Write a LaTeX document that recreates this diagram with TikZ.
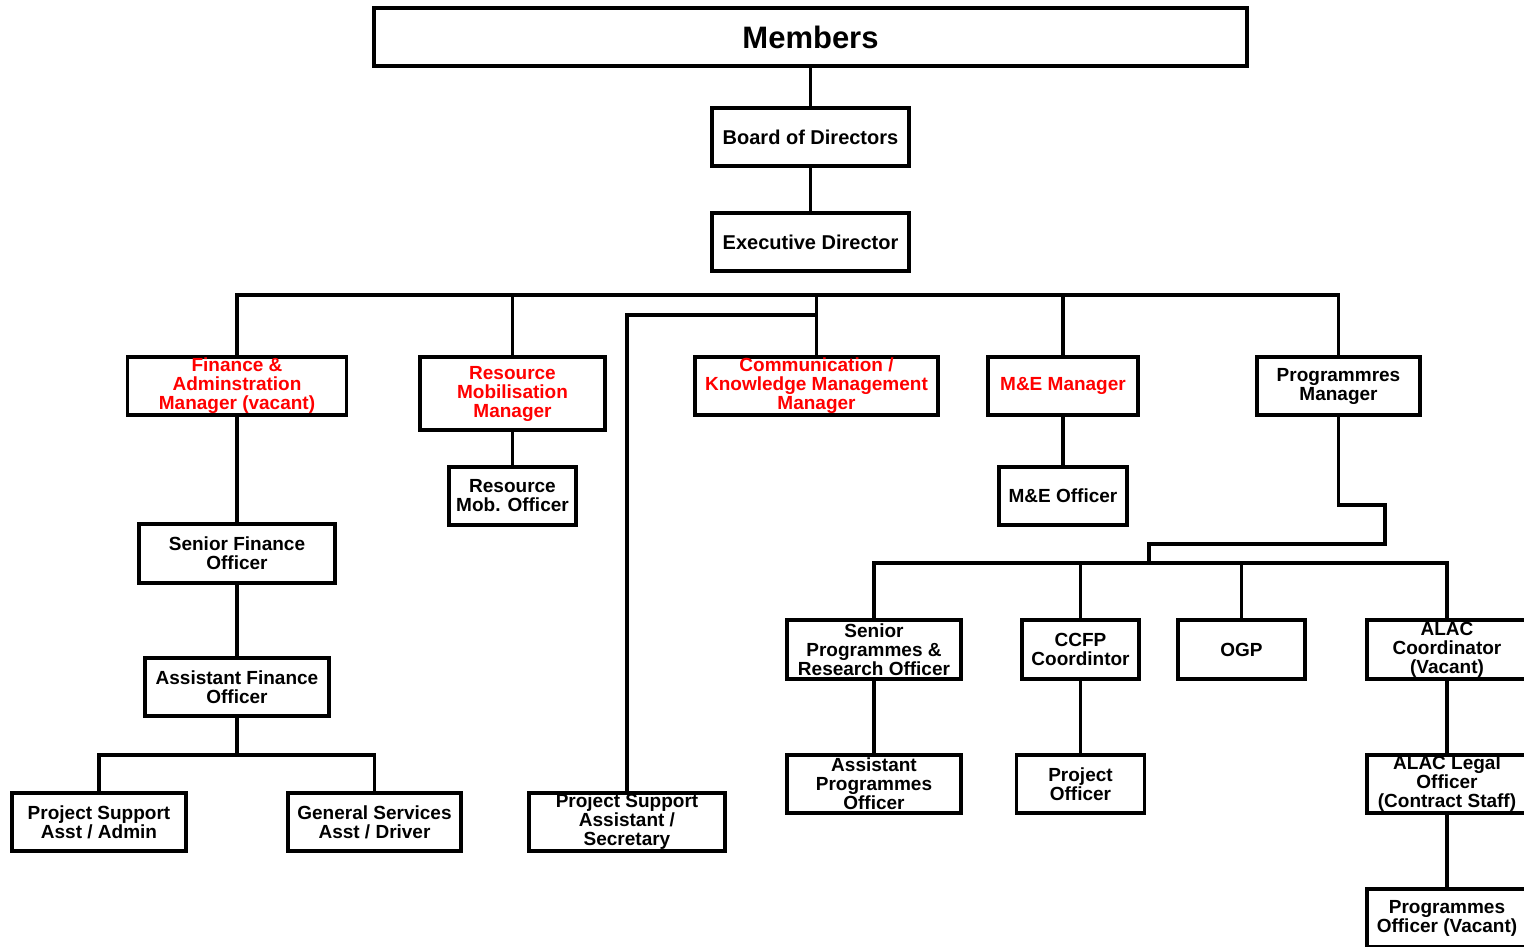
\documentclass[tikz,border=0pt]{standalone}
\usepackage{fontspec}
\setmainfont{Liberation Sans}
\begin{document}
\begin{tikzpicture}[x=1pt,y=-1pt,
  box/.style={draw=black, line width=3.4pt, fill=white, inner sep=0pt, align=center,
    font=\fontsize{19pt}{19pt}\selectfont\bfseries, text=black},
  redbox/.style={box, text=red},
  conn/.style={draw=black, line width=3.4pt}]
\useasboundingbox (0,0) rectangle (1524,946);
\clip (0,0) rectangle (1524,946);
\fill[white] (0,0) rectangle (1524,946);

% bus coordinates
\coordinate (busA) at (0,295);
\coordinate (busB) at (0,315);
\coordinate (busC) at (0,755);
\coordinate (busD) at (0,563);
\coordinate (pm1) at (1385,505);
\coordinate (pm2) at (1149,544);
\coordinate (pm3) at (1149,563);

% top
\node[box, minimum width=873pt, minimum height=58pt, font=\fontsize{31pt}{31pt}\selectfont\bfseries] (members) at (810.5,37) {Members};
\node[box, minimum width=197pt, minimum height=58pt, font=\fontsize{20pt}{20pt}\selectfont\bfseries] (board) at (810.5,137) {Board of Directors};
\node[box, minimum width=197pt, minimum height=58pt, font=\fontsize{20pt}{20pt}\selectfont\bfseries] (exec) at (810.5,242) {Executive Director};

% managers
\node[redbox, minimum width=219pt, minimum height=58pt] (fin) at (237,386) {Finance \&\\Adminstration\\Manager (vacant)};
\node[redbox, minimum width=185pt, minimum height=73pt] (res) at (512.5,393.5) {Resource\\Mobilisation\\Manager};
\node[redbox, minimum width=243pt, minimum height=58pt] (comm) at (816.5,386) {Communication /\\Knowledge Management\\Manager};
\node[redbox, minimum width=150pt, minimum height=58pt] (me) at (1063,386) {M\&E Manager};
\node[box, minimum width=163pt, minimum height=58pt] (prog) at (1338.5,386) {Programmres\\Manager};

% second level
\node[box, minimum width=127pt, minimum height=58pt] (rmo) at (512.5,496) {Resource\\Mob. Officer};
\node[box, minimum width=128pt, minimum height=58pt] (meo) at (1063,496) {M\&E Officer};
\node[box, minimum width=196pt, minimum height=59pt] (sfo) at (237,553.5) {Senior Finance\\Officer};
\node[box, minimum width=184pt, minimum height=58pt] (afo) at (237,687) {Assistant Finance\\Officer};
\node[box, minimum width=174pt, minimum height=58pt] (psaa) at (99,822) {Project Support\\Asst / Admin};
\node[box, minimum width=173pt, minimum height=58pt] (gsa) at (374.5,822) {General Services\\Asst / Driver};
\node[box, minimum width=196pt, minimum height=58pt] (psas) at (627,822) {Project Support\\Assistant /\\Secretary};

% programmes branch
\node[box, minimum width=174pt, minimum height=59pt] (spro) at (874,649.5) {Senior\\Programmes \&\\Research Officer};
\node[box, minimum width=117pt, minimum height=59pt] (ccfp) at (1080.5,649.5) {CCFP\\Coordintor};
\node[box, minimum width=127pt, minimum height=59pt] (ogp) at (1241.5,649.5) {OGP};
\node[box, minimum width=160pt, minimum height=59pt] (alac) at (1447,649.5) {ALAC\\Coordinator\\(Vacant)};
\node[box, minimum width=174pt, minimum height=58pt] (apo) at (874,784) {Assistant\\Programmes\\Officer};
\node[box, minimum width=128pt, minimum height=58pt] (po) at (1080.5,784) {Project\\Officer};
\node[box, minimum width=160pt, minimum height=58pt] (alo) at (1447,784) {ALAC Legal\\Officer\\(Contract Staff)};
\node[box, minimum width=160pt, minimum height=58pt] (pov) at (1447,918) {Programmes\\Officer (Vacant)};

% connectors
\draw[conn] (members.south) -- (board.north);
\draw[conn] (board.south) -- (exec.north);
\draw[conn] (fin.north) |- (prog.north |- busA) -- (prog.north);
\draw[conn] (res.north) -- (res.north |- busA);
\draw[conn] (comm.north) -- (comm.north |- busA);
\draw[conn] (me.north) -- (me.north |- busA);
\draw[conn] (psas.north) |- (comm.north |- busB);
\draw[conn] (res.south) -- (rmo.north);
\draw[conn] (me.south) -- (meo.north);
\draw[conn] (fin.south) -- (sfo.north);
\draw[conn] (sfo.south) -- (afo.north);
\draw[conn] (afo.south) -- (afo.south |- busC);
\draw[conn] (psaa.north) |- (gsa.north |- busC) -- (gsa.north);
\draw[conn] (prog.south) |- (pm1) |- (pm2) -- (pm3);
\draw[conn] (spro.north) |- (alac.north |- busD) -- (alac.north);
\draw[conn] (ccfp.north) -- (ccfp.north |- busD);
\draw[conn] (ogp.north) -- (ogp.north |- busD);
\draw[conn] (spro.south) -- (apo.north);
\draw[conn] (ccfp.south) -- (po.north);
\draw[conn] (alac.south) -- (alo.north);
\draw[conn] (alo.south) -- (pov.north);
\end{tikzpicture}
\end{document}
